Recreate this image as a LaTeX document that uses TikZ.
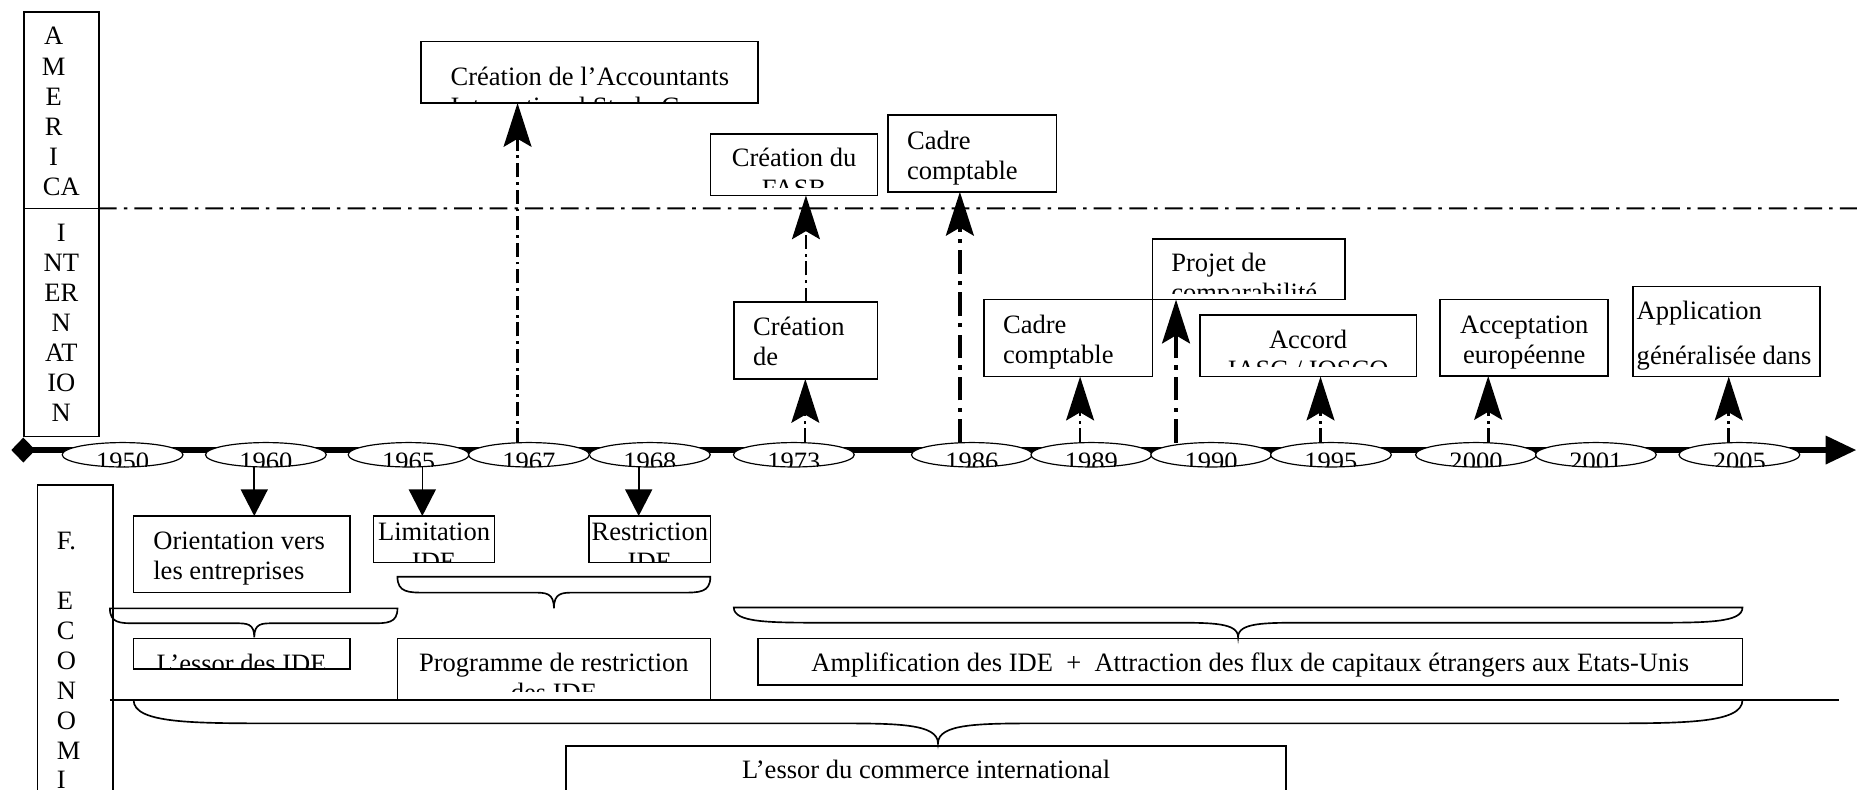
\documentclass[tikz,border=0pt]{standalone}
\usepackage{fontspec}
\setmainfont{Liberation Serif}
\usetikzlibrary{arrows.meta,shapes.geometric}
\newcommand\mkbox[5]{\node[bxs, minimum width={(#4-#2)*0.5pt}, minimum height={(#5-#3)*0.5pt}] (#1) at ({(#2+#4)/2},{(#3+#5)/2}) {};}
\newcommand\hbrace[6]{%
  \pgfmathsetmacro\bce{0.09*(#2-#1)}%
  \pgfmathsetmacro\bct{0.065*(#2-#1)}%
  \draw[brc] (#1,#3) -- (#2,#3) .. controls (#2,#4) and ({#2-0.4*\bce},#4) .. ({#2-\bce},#4)
    -- ({#6+\bct},#4) .. controls ({#6+0.4*\bct},#4) and (#6,#4) .. (#6,#5)
    .. controls (#6,#4) and ({#6-0.4*\bct},#4) .. ({#6-\bct},#4)
    -- ({#1+\bce},#4) .. controls ({#1+0.4*\bce},#4) and (#1,#4) .. cycle;}
\tikzset{
  bxs/.style={draw, line width=0.7pt, fill=white, inner sep=0pt, outer sep=0pt},
  tx/.style={inner sep=0pt, outer sep=0pt},
  yr/.style={ellipse, draw, line width=0.5pt, fill=white, minimum width=51pt, minimum height=10.3pt,
    inner sep=0pt, outer sep=0pt,
    path picture={\node[inner sep=0pt, anchor=base] at ([yshift=-6.85pt]path picture bounding box.center) {#1};}},
  upa/.style={-{Stealth[length=18.5pt,width=11.8pt,inset=3.4pt]}},
  dda/.style={line width=0.9pt, dash pattern=on 6pt off 2pt on 1.2pt off 2pt},
  ddb/.style={line width=1.4pt, dash pattern=on 10pt off 3pt on 1.8pt off 3pt},
  ddc/.style={line width=1.1pt, dash pattern=on 6pt off 2pt on 1.2pt off 2pt},
  hdd/.style={line width=0.85pt, dash pattern=on 7.5pt off 3pt on 1.5pt off 3pt},
  dna/.style={line width=0.7pt, -{Triangle[length=11.25pt,width=11.4pt]}},
  brc/.style={line width=0.7pt},
}
\begin{document}
\begin{tikzpicture}[x=0.5pt,y=-0.5pt,font=\fontsize{11.2pt}{12.7pt}\selectfont]
\useasboundingbox (0,0) rectangle (1568,667);
\clip (0,0) rectangle (1568,667);

% left column boxes
\mkbox{amer}{20}{9.9}{83.5}{176}
\mkbox{intl}{20}{176}{83.5}{368.7}
\mkbox{eco}{31.7}{409.6}{95.2}{720}
\foreach \t/\y [count=\i] in {A/38, M/63.35, E/88.7, R/114.05, I/139.4}
  \node[tx,anchor=base] (am\i) at (45.3,\y) {\t};
\node[tx,anchor=base] (am6) at (51.75,164.75) {CA};
\foreach \t/\y [count=\i] in {I/204, NT/229.3, ER/254.6, N/280, AT/305.3, IO/330.6, N/356}
  \node[tx,anchor=base] (in\i) at (51.75,\y) {\t};
\foreach \t/\y [count=\i] in {F./464.4, E/515, C/540.3, O/565.6, N/590.9, O/616.2, M/641.5, I/665.5}
  \node[tx,anchor=base west] (ec\i) at (48,\y) {\t};

% horizontal separator
\coordinate (hdend) at (1568,176);
\draw[hdd] (amer.south east) -- (hdend);

% timeline
\node[diamond, fill=black, minimum width=10.3pt, minimum height=10.7pt, inner sep=0pt] (dia) at (19.7,380) {};
\coordinate (tlend) at (1567.5,380);
\draw[line width=2.5pt, -{Triangle[length=13pt,width=11.5pt]}] (dia.center) -- (tlend);
\foreach \yy/\cx in {1950/103.5,1960/224.5,1965/345,1967/446.6,1968/548.7,1973/670.3,1986/820.6,1989/921.5,1990/1022.7,1995/1123.8,2000/1246.3,2001/1347.5,2005/1468.7}
  \node[yr=\yy] (y\yy) at (\cx,384) {};

% upper boxes
\mkbox{acc}{355.5}{35}{640}{87}
\mkbox{fasb}{600}{113}{741}{165}
\mkbox{cadA}{750}{97}{892}{162}
\mkbox{iasc}{620}{255}{741}{320}
\mkbox{cadB}{831}{253}{973}{318}
\mkbox{proj}{973}{202}{1135.5}{253}
\mkbox{accord}{1013}{266}{1196}{318}
\mkbox{accept}{1216}{253}{1358}{317.5}
\mkbox{appli}{1378.6}{242}{1537}{318}

\begin{scope}\clip (355.5,35) rectangle (640,86);
\node[tx,anchor=base west] (acc1) at (380.5,72) {Création de l’Accountants};
\node[tx,anchor=base west] (acc2) at (380.5,97.4) {International Study Group};
\end{scope}
\begin{scope}\clip (600,113) rectangle (741,158);
\node[tx,anchor=base] (fasb1) at (670.5,141) {Création du};
\node[tx,anchor=base] (fasb2) at (670.5,166.4) {FASB};
\end{scope}
\node[tx,anchor=base west] (cadA1) at (766,126) {Cadre};
\node[tx,anchor=base west] (cadA2) at (766,151.3) {comptable};
\node[tx,anchor=base west] (iasc1) at (636,283) {Création};
\node[tx,anchor=base west] (iasc2) at (636,308.3) {de};
\node[tx,anchor=base west] (cadB1) at (847,281.5) {Cadre};
\node[tx,anchor=base west] (cadB2) at (847,307) {comptable};
\begin{scope}\clip (973,202) rectangle (1135.5,247.7);
\node[tx,anchor=base west] (proj1) at (989,229.4) {Projet de};
\node[tx,anchor=base west] (proj2) at (989,254.7) {comparabilité};
\end{scope}
\begin{scope}\clip (1013,266) rectangle (1196,309.6);
\node[tx,anchor=base] (accord1) at (1104.5,294) {Accord};
\node[tx,anchor=base] (accord2) at (1104.5,319.4) {IASC / IOSCO};
\end{scope}
\node[tx,anchor=base] (accept1) at (1287,281.5) {Acceptation};
\node[tx,anchor=base] (accept2) at (1287,306.8) {européenne};
\node[tx,anchor=base west] (appli1) at (1382,269.6) {Application};
\node[tx,anchor=base west] (appli2) at (1382,308.2) {généralisée dans};

% lower boxes
\coordinate (lla) at (92.8,591);
\coordinate (llb) at (1552.8,591);
\draw[line width=0.85pt] (lla) -- (llb);
\mkbox{ori}{112.8}{435.7}{295.5}{500.4}
\mkbox{lim}{315.5}{435.7}{417.4}{475}
\mkbox{res}{497.5}{435.7}{599.8}{475}
\mkbox{essor}{112.8}{539}{295.5}{565}
\mkbox{prog}{335.6}{539}{599.8}{591}
\mkbox{ampl}{640}{539}{1471.3}{578.4}
\mkbox{comm}{478}{630}{1086}{720}

\node[tx,anchor=base west] (ori1) at (129.5,464.4) {Orientation vers};
\node[tx,anchor=base west] (ori2) at (129.5,489.7) {les entreprises};
\begin{scope}\clip (315.5,435.7) rectangle (417.4,474);
\node[tx,anchor=base] (lim1) at (366.5,456) {Limitation};
\node[tx,anchor=base] (lim2) at (366.5,481.4) {IDE};
\end{scope}
\begin{scope}\clip (497.5,435.7) rectangle (599.8,474);
\node[tx,anchor=base] (res1) at (548.7,456) {Restriction};
\node[tx,anchor=base] (res2) at (548.7,481.4) {IDE};
\end{scope}
\begin{scope}\clip (112.8,539) rectangle (295.5,564);
\node[tx,anchor=base] (essor1) at (204,567.6) {L’essor des IDE};
\end{scope}
\begin{scope}\clip (335.6,539) rectangle (599.8,584);
\node[tx,anchor=base] (prog1) at (467.7,567) {Programme de restriction};
\node[tx,anchor=base] (prog2) at (467.7,592.4) {des IDE};
\end{scope}
\node[tx,anchor=base] (ampl1) at (1055.6,567) {Amplification des IDE \ + \ Attraction des flux de capitaux étrangers aux Etats-Unis};
\node[tx,anchor=base] (comm1) at (782,657) {L’essor du commerce international};

% braces
\hbrace{92.8}{335.6}{513.7}{526.3}{538.1}{214.7}
\hbrace{335.6}{599.8}{487}{500.4}{513.7}{467.7}
\hbrace{619.6}{1471.3}{513}{525.8}{538}{1045.4}
\hbrace{112.8}{1471.3}{591}{610.8}{627.7}{792}

% up arrows
\draw[dda,upa] ([xshift=-4.8pt]y1967.north) -- ([xshift=-4.8pt]y1967.north |- acc.south);
\draw[dda,upa] ([xshift=4.85pt]y1973.north) -- ([xshift=4.85pt]y1973.north |- iasc.south);
\draw[dda,upa] (iasc.north) -- (iasc.north |- fasb.south);
\draw[ddb,upa] ([xshift=-5.05pt]y1986.north) -- ([xshift=-5.05pt]y1986.north |- cadA.south);
\draw[ddc,upa] ([xshift=-4.75pt]y1989.north) -- ([xshift=-4.75pt]y1989.north |- cadB.south);
\draw[ddb,upa] ([xshift=-14.85pt]y1990.north) -- ([xshift=-14.85pt]y1990.north |- proj.south);
\draw[ddc,upa] ([xshift=-4.4pt]y1995.north) -- ([xshift=-4.4pt]y1995.north |- accord.south);
\draw[ddc,upa] ([xshift=5.15pt]y2000.north) -- ([xshift=5.15pt]y2000.north |- accept.south);
\draw[ddc,upa] ([xshift=-4.5pt]y2005.north) -- ([xshift=-4.5pt]y2005.north |- appli.south);

% down arrows
\draw[dna] ([xshift=-4.9pt]y1960.south) -- ([xshift=-4.9pt]y1960.south |- ori.north);
\draw[dna] ([xshift=5.8pt]y1965.south) -- ([xshift=5.8pt]y1965.south |- lim.north);
\draw[dna] ([xshift=-4.7pt]y1968.south) -- ([xshift=-4.7pt]y1968.south |- res.north);
\end{tikzpicture}
\end{document}
